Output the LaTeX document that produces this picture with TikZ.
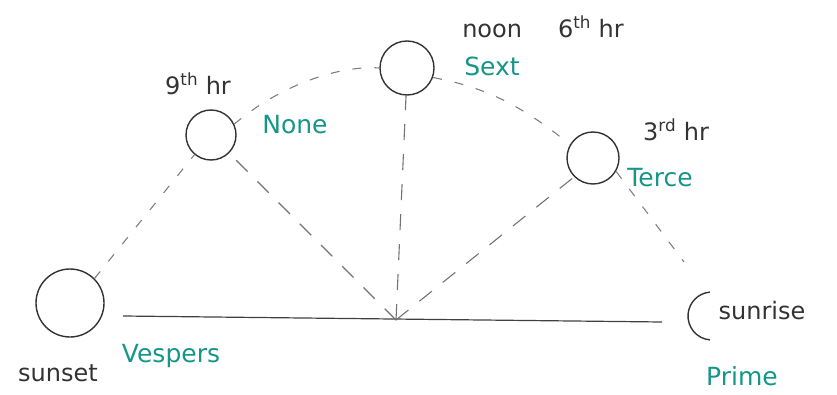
\documentclass[tikz,border=0pt]{standalone}
\usepackage{fontspec}
\setmainfont{DejaVu Sans}
\begin{document}
\begin{tikzpicture}[x=1pt,y=-1pt,
  sun/.style={circle,draw=black!80,line width=1.4pt,inner sep=0pt},
  path/.style={draw=black!50,line width=1.1pt,dash pattern=on 9pt off 13pt},
  ray/.style={draw=black!55,line width=1.1pt,dash pattern=on 16pt off 14pt},
  lbl/.style={font=\fontsize{24}{28}\selectfont,text=black!80},
  hour/.style={font=\fontsize{25}{28}\selectfont,text=tealink},
  ]
\definecolor{tealink}{RGB}{22,150,136}
\useasboundingbox (0,0) rectangle (837,395);

% suns
\node[sun,minimum size=68pt] (sunset) at (70,303) {};
\node[sun,minimum size=50pt] (nine) at (211,135) {};
\node[sun,minimum size=54pt] (noon) at (407,68) {};
\node[sun,minimum size=52pt] (three) at (593,158) {};
\coordinate (sunrise) at (712,316);
\draw[black!80,line width=1.4pt] (sunrise) ++(95:24) arc[start angle=95,end angle=265,radius=24];

% horizon
\coordinate (hL) at (123,316);
\coordinate (hR) at (662,322);
\coordinate (apex) at (396,320);
\draw[black!75,line width=1.2pt] (hL) -- (hR);

% sun path
\coordinate (riseTop) at (684,262);
\draw[path] (sunset.45) -- (nine.230);
\draw[path] (nine.25) .. controls (280,85) and (340,65) .. (noon.180);
\draw[path] (noon.340) .. controls (470,85) and (510,95) .. (three.150);
\draw[path] (three.-30) -- (riseTop);

% rays from apex
\draw[ray] (apex) -- (nine.-45);
\draw[ray] (apex) -- (noon.-92);
\draw[ray] (apex) -- (three.225);

% labels
\node[lbl] (tSunset) at (58,373) {sunset};
\node[hour] (tVespers) at (171,356) {Vespers};
\node[lbl] (tNine) at (198,84) {9\textsuperscript{th} hr};
\node[hour] (tNone) at (295,125) {None};
\node[lbl] (tNoon) at (543,27) {noon\hspace{36pt}6\textsuperscript{th} hr};
\node[hour] (tSext) at (492,66) {Sext};
\node[lbl] (tThree) at (676,130) {3\textsuperscript{rd} hr};
\node[hour] (tTerce) at (660,178) {Terce};
\node[lbl] (tSunrise) at (762,311) {sunrise};
\node[hour] (tPrime) at (742,376) {Prime};
\end{tikzpicture}
\end{document}
